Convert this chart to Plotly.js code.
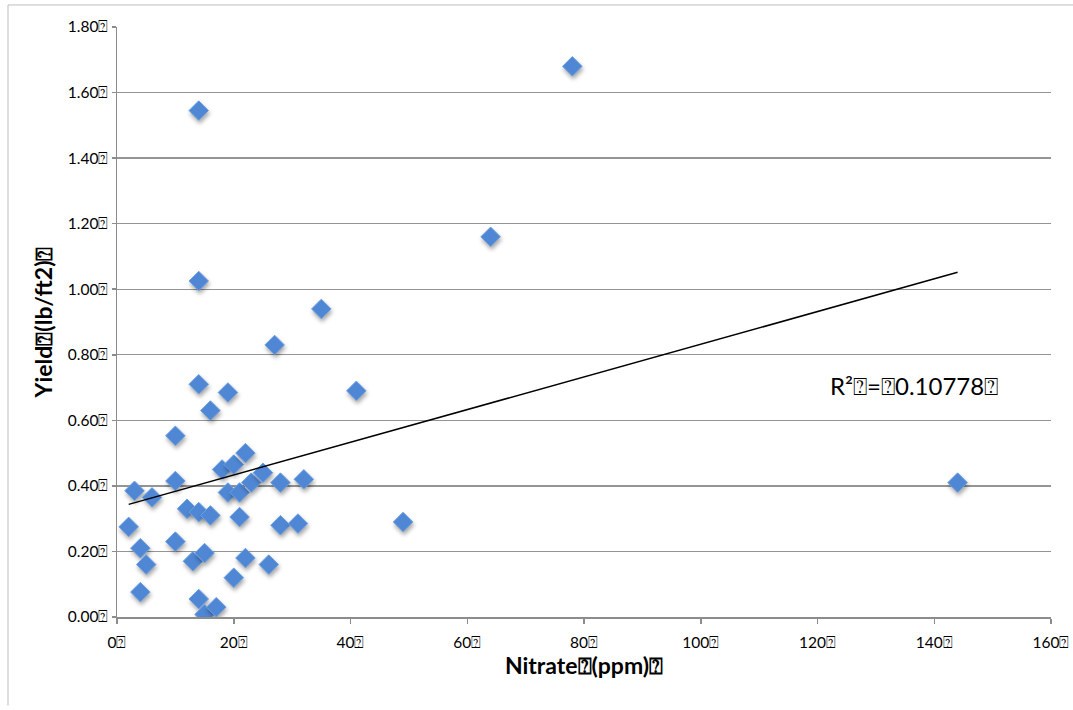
<!DOCTYPE html>
<html>
<head>
<meta charset="utf-8">
<script src="https://cdn.plot.ly/plotly-3.0.1.min.js"></script>
<style>
  html, body { margin: 0; padding: 0; background: #fff; }
  #chart { width: 1073px; height: 710px; }
  .scatterlayer .point { filter: drop-shadow(1px 3px 2px rgba(0,0,0,0.35)); }
</style>
</head>
<body>
<div id="chart"></div>
<script>
// Nitrate (ppm) and Yield (lb/ft2)
const nitrate = [3, 2, 4, 5, 4, 6, 10, 10, 10, 12, 13, 14, 14, 15, 15, 16, 17, 18, 19, 20, 21, 21, 20, 22, 22, 23, 25, 26, 28, 28, 31, 32, 49,
                 14, 14, 14, 16, 19, 27, 35, 41, 64, 78, 144];
const yieldVals = [0.385, 0.275, 0.21, 0.16, 0.076, 0.365, 0.553, 0.415, 0.23, 0.33, 0.17, 0.32, 0.055, 0.195, 0.008, 0.31, 0.03, 0.45, 0.38, 0.465, 0.38, 0.305, 0.12, 0.50, 0.18, 0.41, 0.44, 0.16, 0.41, 0.28, 0.285, 0.42, 0.29,
                   1.545, 1.025, 0.71, 0.63, 0.685, 0.83, 0.94, 0.69, 1.16, 1.68, 0.41];
const box = '\u2370';
const xTickVals = [0, 20, 40, 60, 80, 100, 120, 140, 160];
const xTickText = xTickVals.map(v => v + box);
const yTickVals = [0, 0.2, 0.4, 0.6, 0.8, 1.0, 1.2, 1.4, 1.6, 1.8];
const yTickText = yTickVals.map(v => v.toFixed(2) + box);
const rSquaredLabel = 'R\u00b2' + box + '=' + box + '0.10778' + box;

// least-squares linear trendline
const n = nitrate.length;
const mx = nitrate.reduce((a, b) => a + b, 0) / n;
const my = yieldVals.reduce((a, b) => a + b, 0) / n;
let sxy = 0, sxx = 0;
for (let i = 0; i < n; i++) { sxy += (nitrate[i] - mx) * (yieldVals[i] - my); sxx += (nitrate[i] - mx) ** 2; }
const slope = sxy / sxx, intercept = my - slope * mx;
const xMin = Math.min(...nitrate), xMax = Math.max(...nitrate);
const trendX = [xMin, xMax];
const trendY = trendX.map(x => intercept + slope * x);

const font = 'Lato, "Open Sans", "DejaVu Sans", sans-serif';

const data = [
  {
    x: nitrate, y: yieldVals, type: 'scatter', mode: 'markers',
    marker: { symbol: 'diamond', size: 15, color: '#4f87d4', line: { color: '#6c9fe2', width: 1 } },
    hoverinfo: 'x+y', showlegend: false
  },
  {
    x: trendX, y: trendY, type: 'scatter', mode: 'lines',
    line: { color: '#000000', width: 1.5 }, hoverinfo: 'skip', showlegend: false
  }
];

const layout = {
  width: 1073, height: 710,
  margin: { l: 117, r: 22, t: 27, b: 93 },
  paper_bgcolor: '#ffffff', plot_bgcolor: '#ffffff',
  font: { family: font, color: '#000000', size: 15 },
  showlegend: false,
  xaxis: {
    range: [0, 160], tickvals: xTickVals, ticktext: xTickText,
    showgrid: false, zeroline: false,
    showline: true, linecolor: '#8c8c8c', linewidth: 1.5,
    ticks: 'outside', ticklen: 5, tickcolor: '#8c8c8c', tickwidth: 1.5,
    ticklabelstandoff: 6,
    tickfont: { family: font, size: 15.5, color: '#000' },
    title: { text: '<b>Nitrate' + box + '(ppm)' + box + '</b>', font: { family: font, size: 23, color: '#000' }, standoff: 6 }
  },
  yaxis: {
    range: [0, 1.8], tickvals: yTickVals, ticktext: yTickText,
    showgrid: true, gridcolor: '#959595', gridwidth: 1.4, zeroline: false,
    showline: true, linecolor: '#8c8c8c', linewidth: 1.5,
    ticks: 'outside', ticklen: 4, tickcolor: '#8c8c8c', tickwidth: 1.5,
    tickfont: { family: font, size: 15.5, color: '#000' },
    title: { text: '<b>Yield' + box + '(lb/ft2)' + box + '</b>', font: { family: font, size: 23, color: '#000' }, standoff: 8 }
  },
  shapes: [
    { type: 'line', xref: 'paper', yref: 'paper', x0: -0.1167, x1: -0.1167, y0: -0.15, y1: 1.0373, line: { color: '#bdbdbd', width: 1 } },
    { type: 'line', xref: 'paper', yref: 'paper', x0: -0.1167, x1: 1.05, y0: 1.0373, y1: 1.0373, line: { color: '#bdbdbd', width: 1 } }
  ],
  annotations: [
    { x: 136.5, y: 0.707, xref: 'x', yref: 'y', text: rSquaredLabel, showarrow: false,
      font: { family: font, size: 24, color: '#000' } }
  ]
};

Plotly.newPlot('chart', data, layout, { displayModeBar: false, staticPlot: true });
</script>
</body>
</html>
